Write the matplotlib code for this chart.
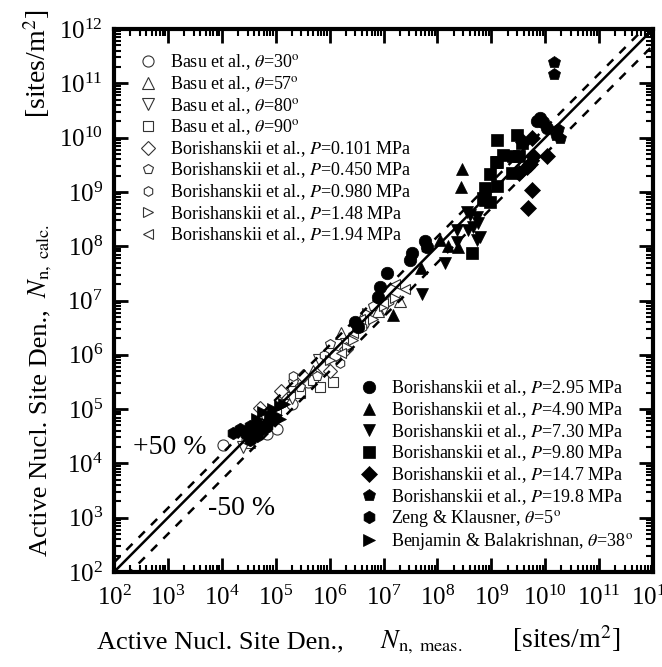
import numpy as np
import matplotlib
matplotlib.use("Agg")
import matplotlib.pyplot as plt
from matplotlib.ticker import LogLocator, NullFormatter

plt.rcParams['font.family'] = ['Liberation Serif', 'DejaVu Serif']
plt.rcParams['mathtext.fontset'] = 'stix'

# --- open symbols (upper legend) ---
basu30_x = [1.05e4, 2.95e4, 4.0e4, 6.9e4, 1.05e5, 2.0e5, 4.0e5, 8.0e5, 1.26e6]
basu30_y = [2.2e4, 2.75e4, 3.2e4, 3.5e4, 4.3e4, 1.26e5, 3.2e5, 7.0e5, 1.0e6]
basu57_x = [3.2e4, 5.0e4, 1.6e5, 5.0e5, 1.6e6, 4.0e6, 8.0e6, 2.0e7]
basu57_y = [2.5e4, 7.0e4, 2.0e5, 5.0e5, 2.5e6, 5.0e6, 6.3e6, 1.0e7]
basu80_x = [2.5e4, 6.3e4, 2.0e5, 6.3e5, 2.0e6, 5.0e6, 1.0e7]
basu80_y = [2.0e4, 5.0e4, 1.6e5, 8.0e5, 1.6e6, 4.0e6, 7.0e6]
basu90_x = [4.0e4, 1.0e5, 2.8e5, 5.0e5, 6.6e5, 1.15e6]
basu90_y = [3.5e4, 8.0e4, 2.0e5, 3.5e5, 2.6e5, 3.1e5]
bor0101_x = [3.2e4, 5.1e4, 1.26e5, 3.2e5, 8.0e5, 1.0e6, 2.0e6]
bor0101_y = [4.0e4, 1.07e5, 2.2e5, 4.0e5, 5.6e5, 5.0e5, 1.26e6]
bor0450_x = [2.1e5, 2.8e5, 5.9e5, 1.0e6, 3.2e6, 6.3e6]
bor0450_y = [3.1e5, 2.6e5, 4.0e5, 1.6e6, 3.5e6, 8.0e6]
bor0980_x = [2.95e4, 2.1e5, 8.0e5, 1.55e6, 4.0e6, 1.26e7]
bor0980_y = [2.75e4, 4.0e5, 1.0e6, 7.2e5, 3.2e6, 1.0e7]
bor148_x = [1.0e6, 2.1e6, 2.7e6, 4.9e6, 6.5e6, 1.0e7, 1.6e7]
bor148_y = [8.0e5, 1.4e6, 1.9e6, 6.0e6, 4.5e6, 8.0e6, 1.1e7]
bor194_x = [1.6e6, 2.7e6, 3.6e6, 9.8e6, 1.6e7, 2.5e7]
bor194_y = [1.1e6, 2.5e6, 4.5e6, 9.1e6, 2.0e7, 1.6e7]

# --- filled symbols (lower legend) ---
bor295_x = [2.95e6, 3.4e6, 7.9e6, 8.7e6, 1.15e7, 3.1e7, 3.4e7, 5.9e7, 6.5e7, 7.1e9, 8.0e9, 9.1e9, 1.07e10]
bor295_y = [4.0e6, 3.2e6, 1.17e7, 1.74e7, 3.2e7, 5.5e7, 7.6e7, 1.26e8, 9.8e7, 2.0e10, 2.3e10, 1.95e10, 1.5e10]
bor490_x = [1.5e7, 5.0e7, 1.12e8, 1.6e8, 2.4e8, 2.75e8, 2.9e8]
bor490_y = [5.5e6, 4.0e7, 1.32e8, 1.0e8, 9.8e7, 1.23e9, 2.6e9]
bor730_x = [5.1e7, 1.4e8, 2.3e8, 2.3e8, 3.5e8, 3.7e8, 4.0e8, 4.6e8, 5.4e8, 5.4e8, 5.6e8, 6.2e8]
bor730_y = [1.3e7, 5.0e7, 2.0e8, 1.17e8, 4.2e8, 2.0e8, 3.8e8, 2.3e8, 3.5e8, 1.3e8, 2.7e8, 1.5e8]
bor980_x = [4.4e8, 7.1e8, 7.6e8, 7.6e8, 9.5e8, 9.5e8, 1.2e9, 1.3e9, 1.3e9, 1.3e9, 1.65e9,
            2.4e9, 2.5e9, 3.0e9, 3.2e9, 3.7e9]
bor980_y = [7.6e7, 7.8e8, 7.2e8, 1.2e9, 2.1e9, 6.6e8, 3.6e9, 9.1e9, 3.5e9, 1.26e9, 4.8e9,
            2.2e9, 4.5e9, 1.1e10, 4.5e9, 7.9e9]
bor147_x = [3.2e9, 3.9e9, 4.6e9, 4.8e9, 5.2e9, 5.8e9, 5.8e9, 5.9e9, 1.1e10]
bor147_y = [2.2e9, 8.3e9, 2.9e9, 5.1e8, 3.2e9, 1.1e9, 1.0e10, 4.5e9, 4.5e9]
bor198_x = [1.45e10, 1.45e10, 1.6e10, 1.7e10, 1.9e10]
bor198_y = [2.45e11, 1.5e11, 1.1e10, 1.45e10, 1.0e10]
zeng_x = [1.6e4, 2.2e4, 2.8e4, 3.3e4, 3.3e4, 4.0e4, 4.5e4, 5.0e4, 6.9e4]
zeng_y = [3.7e4, 4.3e4, 3.5e4, 4.8e4, 2.75e4, 4.0e4, 3.2e4, 5.0e4, 4.8e4]
benj_x = [4.5e4, 5.8e4, 6.3e4, 7.9e4, 8.9e4, 8.9e4, 1.0e5, 1.2e5, 1.2e5, 1.4e5]
benj_y = [6.5e4, 8.7e4, 4.0e4, 7.1e4, 1.0e5, 5.8e4, 7.9e4, 1.12e5, 6.5e4, 1.26e5]

open_series = [
    (basu30_x, basu30_y, 'o', r'Basu et al., $\theta$=30$^\mathrm{o}$'),
    (basu57_x, basu57_y, '^', r'Basu et al., $\theta$=57$^\mathrm{o}$'),
    (basu80_x, basu80_y, 'v', r'Basu et al., $\theta$=80$^\mathrm{o}$'),
    (basu90_x, basu90_y, 's', r'Basu et al., $\theta$=90$^\mathrm{o}$'),
    (bor0101_x, bor0101_y, 'D', r'Borishanskii et al., $P$=0.101 MPa'),
    (bor0450_x, bor0450_y, 'p', r'Borishanskii et al., $P$=0.450 MPa'),
    (bor0980_x, bor0980_y, 'h', r'Borishanskii et al., $P$=0.980 MPa'),
    (bor148_x, bor148_y, '>', r'Borishanskii et al., $P$=1.48 MPa'),
    (bor194_x, bor194_y, '<', r'Borishanskii et al., $P$=1.94 MPa'),
]
filled_series = [
    (bor295_x, bor295_y, 'o', r'Borishanskii et al., $P$=2.95 MPa'),
    (bor490_x, bor490_y, '^', r'Borishanskii et al., $P$=4.90 MPa'),
    (bor730_x, bor730_y, 'v', r'Borishanskii et al., $P$=7.30 MPa'),
    (bor980_x, bor980_y, 's', r'Borishanskii et al., $P$=9.80 MPa'),
    (bor147_x, bor147_y, 'D', r'Borishanskii et al., $P$=14.7 MPa'),
    (bor198_x, bor198_y, 'p', r'Borishanskii et al., $P$=19.8 MPa'),
    (zeng_x, zeng_y, 'h', r'Zeng & Klausner, $\theta$=5$^\mathrm{o}$'),
    (benj_x, benj_y, '>', r'Benjamin & Balakrishnan, $\theta$=38$^\mathrm{o}$'),
]

W, H = 662, 667
fig = plt.figure(figsize=(W / 100, H / 100), dpi=100)
ax = fig.add_axes([114 / W, 1 - 572 / H, 539 / W, 543 / H])
ax.set_xscale('log')
ax.set_yscale('log')
ax.set_xlim(1e2, 1e12)
ax.set_ylim(1e2, 1e12)

open_handles = []
for x, y, m, lab in open_series:
    ms = 8 if m in 'o^v' else 7
    h, = ax.plot(x, y, ls='none', marker=m, ms=ms, mfc='white', mec='#333333', mew=0.8, label=lab)
    open_handles.append(h)

filled_handles = []
for x, y, m, lab in filled_series:
    ms = 9 if m in 'o^vph>' else 8
    h, = ax.plot(x, y, ls='none', marker=m, ms=ms, mfc='black', mec='black', mew=0.5, label=lab)
    filled_handles.append(h)

line_x = np.array([1e2, 1e12])
ax.plot(line_x, line_x, 'k-', lw=1.8)
ax.plot(line_x, 1.5 * line_x, 'k--', lw=1.8, dashes=(3.5, 3.5))
ax.plot(line_x, 0.5 * line_x, 'k--', lw=1.8, dashes=(3.5, 3.5))

ax.text(2.24e2, 2.0e4, '+50 %', fontsize=20, va='center')
ax.text(5.5e3, 1.45e3, '-50 %', fontsize=20, va='center')

ax.xaxis.set_major_locator(LogLocator(base=10, numticks=12))
ax.yaxis.set_major_locator(LogLocator(base=10, numticks=12))
ax.xaxis.set_minor_locator(LogLocator(base=10, subs=np.arange(2, 10), numticks=12))
ax.yaxis.set_minor_locator(LogLocator(base=10, subs=np.arange(2, 10), numticks=12))
ax.xaxis.set_minor_formatter(NullFormatter())
ax.yaxis.set_minor_formatter(NullFormatter())
ax.tick_params(which='both', direction='in', top=True, right=True, labelsize=18)
ax.tick_params(axis='x', pad=10)
ax.tick_params(axis='y', pad=8)
ax.tick_params(which='major', length=10, width=2)
ax.tick_params(which='minor', length=5, width=1.5)
for s in ax.spines.values():
    s.set_linewidth(3)

# axis titles, written in three pieces each so the wide gaps match
lab_fs = 19
fig.text(97 / W, 1 - 648 / H, 'Active Nucl. Site Den.,', fontsize=lab_fs, ha='left', va='baseline')
fig.text(380 / W, 1 - 648 / H, r'$N_{\mathrm{n,\ meas.}}$', fontsize=lab_fs, ha='left', va='baseline')
fig.text(512 / W, 1 - 648 / H, r'[sites/m$^2$]', fontsize=20, ha='left', va='baseline')

fig.text(46 / W, 1 - 556 / H, 'Active Nucl. Site Den.,', fontsize=lab_fs, rotation=90,
         rotation_mode='anchor', ha='left', va='baseline')
fig.text(46 / W, 1 - 298 / H, r'$N_{\mathrm{n,\ calc.}}$', fontsize=lab_fs, rotation=90,
         rotation_mode='anchor', ha='left', va='baseline')
fig.text(46 / W, 1 - 10 / H, r'[sites/m$^2$]', fontsize=20, rotation=90,
         rotation_mode='anchor', ha='right', va='baseline')

leg1 = ax.legend(handles=open_handles, loc='upper left', frameon=False, fontsize=13,
                 handletextpad=0.6, labelspacing=0.1, borderaxespad=0.9, handlelength=1.2)
ax.add_artist(leg1)
ax.legend(handles=filled_handles, loc='lower right', frameon=False, fontsize=13,
          handletextpad=0.6, labelspacing=0.1, borderaxespad=0.7, handlelength=1.2)

fig.savefig('out.png', dpi=100)
